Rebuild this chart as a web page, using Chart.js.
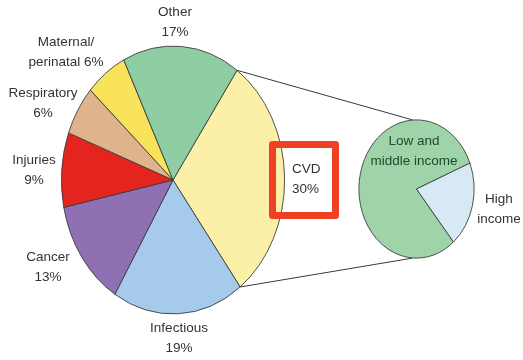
<!DOCTYPE html>
<html>
<head>
<meta charset="utf-8">
<script src="https://cdn.jsdelivr.net/npm/chart.js@4.4.1/dist/chart.umd.min.js"></script>
<style>
  html, body { margin: 0; padding: 0; background: #fff; }
  #wrap { position: relative; width: 523px; height: 360px; }
  #wrap canvas { position: absolute; left: 0; top: 0; }
</style>
</head>
<body>
<div id="wrap">
  <canvas id="mainPie" width="523" height="360"></canvas>
  <canvas id="cvdPie" width="523" height="360"></canvas>
</div>
<script>
// causes of death (%), clockwise from the CVD slice
const causes = ['CVD', 'Infectious', 'Cancer', 'Injuries', 'Respiratory', 'Maternal/perinatal', 'Other'];
const causeShares = [30, 19, 13, 9, 6, 6, 17];
const causeLabels = [['CVD', '30%'], ['Infectious', '19%'], ['Cancer', '13%'], ['Injuries', '9%'],
                     ['Respiratory', '6%'], ['Maternal/', 'perinatal 6%'], ['Other', '17%']];

// split of CVD deaths
const incomeGroups = ['Low and middle income', 'High income'];
const incomeShares = [80, 20];
const incomeLabels = [['Low and', 'middle income'], ['High', 'income']];

const causeColors = ['#fcf0a8', '#a6cbea', '#8f70b3', '#e4251f', '#dfb38c', '#f8e35a', '#8fcea2'];
const incomeColors = ['#9ed4a7', '#d8e9f6'];

const STRETCH = 1.2; // the pies are drawn a bit taller than wide
const FONT = '13.5px "Liberation Sans", Arial, sans-serif';

// where each label sits (text centre, or left edge for CVD)
const causeLabelPos = [[292, 169, 'left'], [179, 328], [48, 257], [34, 160], [43, 93], [66, 42], [175, 12]];
const incomeLabelPos = [[414, 141], [499, 199]];

// squash a pie vertically around its centre
const stretchPlugin = {
    id: 'stretch',
    beforeDatasetsDraw(chart) {
        const arc = chart.getDatasetMeta(0).data[0];
        const ctx = chart.ctx;
        ctx.save();
        ctx.translate(arc.x, arc.y);
        ctx.scale(1, STRETCH);
        ctx.translate(-arc.x, -arc.y);
    },
    afterDatasetsDraw(chart) {
        chart.ctx.restore();
    }
};

function drawLabels(ctx, labels, pos, color) {
    ctx.save();
    ctx.font = FONT;
    ctx.fillStyle = color;
    ctx.textBaseline = 'middle';
    labels.forEach(function(lines, i) {
        const p = pos[i];
        ctx.textAlign = p[2] || 'center';
        lines.forEach(function(line, j) {
            ctx.fillText(line, p[0], p[1] + j * 20);
        });
    });
    ctx.restore();
}

const mainChart = new Chart(document.getElementById('mainPie'), {
    type: 'pie',
    data: {
        labels: causes,
        datasets: [{
            data: causeShares,
            backgroundColor: causeColors,
            borderColor: '#3a3a3a',
            borderWidth: 0.8
        }]
    },
    options: {
        responsive: false,
        animation: false,
        events: [],
        rotation: 35,
        layout: { padding: { left: 61, right: 238, top: 68, bottom: 68 } },
        plugins: { legend: { display: false }, tooltip: { enabled: false } }
    },
    plugins: [stretchPlugin, {
        id: 'causeText',
        afterDraw(chart) {
            const ctx = chart.ctx;
            drawLabels(ctx, causeLabels.slice(1), causeLabelPos.slice(1), '#333');
        }
    }]
});

new Chart(document.getElementById('cvdPie'), {
    type: 'pie',
    data: {
        labels: incomeGroups,
        datasets: [{
            data: incomeShares,
            backgroundColor: incomeColors,
            borderColor: '#3a3a3a',
            borderWidth: 0.8
        }]
    },
    options: {
        responsive: false,
        animation: false,
        events: [],
        rotation: 140,
        layout: { padding: { left: 358, right: 48, top: 131, bottom: 113 } },
        plugins: { legend: { display: false }, tooltip: { enabled: false } }
    },
    plugins: [{
        id: 'connectors',
        beforeDatasetsDraw(chart) {
            // lines from the CVD slice edges to the top and bottom of this pie
            const cvd = mainChart.getDatasetMeta(0).data[0];
            const small = chart.getDatasetMeta(0).data[0];
            const ctx = chart.ctx;
            const ends = [cvd.startAngle, cvd.endAngle];
            const targets = [small.y - small.outerRadius * STRETCH, small.y + small.outerRadius * STRETCH];
            ctx.save();
            ctx.strokeStyle = '#3a3a3a';
            ctx.lineWidth = 1;
            ends.forEach(function(a, i) {
                ctx.beginPath();
                ctx.moveTo(cvd.x + cvd.outerRadius * Math.cos(a), cvd.y + cvd.outerRadius * STRETCH * Math.sin(a));
                ctx.lineTo(small.x - 4, targets[i]);
                ctx.stroke();
            });
            ctx.restore();
        }
    }, stretchPlugin, {
        id: 'incomeText',
        afterDraw(chart) {
            const ctx = chart.ctx;
            drawLabels(ctx, incomeLabels.slice(0, 1), incomeLabelPos.slice(0, 1), '#1f4a2c');
            drawLabels(ctx, incomeLabels.slice(1), incomeLabelPos.slice(1), '#333');
            // CVD label with its red highlight box
            drawLabels(ctx, causeLabels.slice(0, 1), causeLabelPos.slice(0, 1), '#333');
            ctx.save();
            ctx.strokeStyle = '#ee4123';
            ctx.lineWidth = 7;
            ctx.lineJoin = 'round';
            ctx.strokeRect(272.5, 144.5, 63, 71);
            ctx.restore();
        }
    }]
});
</script>
</body>
</html>
